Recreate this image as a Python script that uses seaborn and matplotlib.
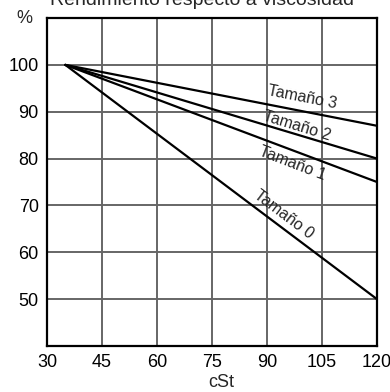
import matplotlib
matplotlib.use("Agg")
import matplotlib.pyplot as plt
import seaborn as sns
import pandas as pd

# data
sizes = ["Tamaño 0", "Tamaño 1", "Tamaño 2", "Tamaño 3"]
x_start = [35, 35, 35, 35]
x_end = [120, 120, 120, 120]
y_start = [100, 100, 100, 100]
y_end = [50, 75, 80, 87]

# label positions / angles (data coords)
label_x = [94.6, 97.0, 98.2, 99.5]
label_y = [68.1, 79.0, 87.0, 93.0]
label_rot = [-37, -21, -17, -11]

xticks = [30, 45, 60, 75, 90, 105, 120]
yticks = [50, 60, 70, 80, 90, 100]

rows = []
for i, s in enumerate(sizes):
    rows.append({"size": s, "cSt": x_start[i], "pct": y_start[i]})
    rows.append({"size": s, "cSt": x_end[i], "pct": y_end[i]})
df = pd.DataFrame(rows)

sns.set_theme(style="white")
plt.rcParams["font.family"] = ["Liberation Sans", "DejaVu Sans"]

fig = plt.figure(figsize=(3.9, 3.92), dpi=100)
ax = fig.add_axes([0.1205, 0.1173, 0.8462, 0.8367])

sns.lineplot(data=df, x="cSt", y="pct", units="size", estimator=None,
             color="black", linewidth=1.6, ax=ax, zorder=3)

ax.set_xlim(30, 120)
ax.set_ylim(40, 110)
ax.set_xticks(xticks)
ax.set_yticks(yticks)
ax.tick_params(axis="both", length=0, labelsize=13, colors="black", pad=6)
for v in xticks[1:-1]:
    ax.axvline(v, color="#666666", linewidth=1.4, zorder=1)
for v in yticks:
    ax.axhline(v, color="#666666", linewidth=1.4, zorder=1)
for sp in ax.spines.values():
    sp.set_color("black")
    sp.set_linewidth(1.6)
ax.set_xlabel("")
ax.set_ylabel("")

for i, s in enumerate(sizes):
    ax.text(label_x[i], label_y[i], s, rotation=label_rot[i], fontsize=11.5,
            ha="center", va="center", rotation_mode="anchor", zorder=4)

fig.text(0.518, 0.987, "Rendimiento respecto a viscosidad", fontsize=14,
         ha="center", va="baseline")
fig.text(0.062, 0.941, "%", fontsize=13, ha="center", va="baseline")
fig.text(0.567, 0.012, "cSt", fontsize=13, ha="center", va="baseline")

fig.savefig("out.png", dpi=100)
